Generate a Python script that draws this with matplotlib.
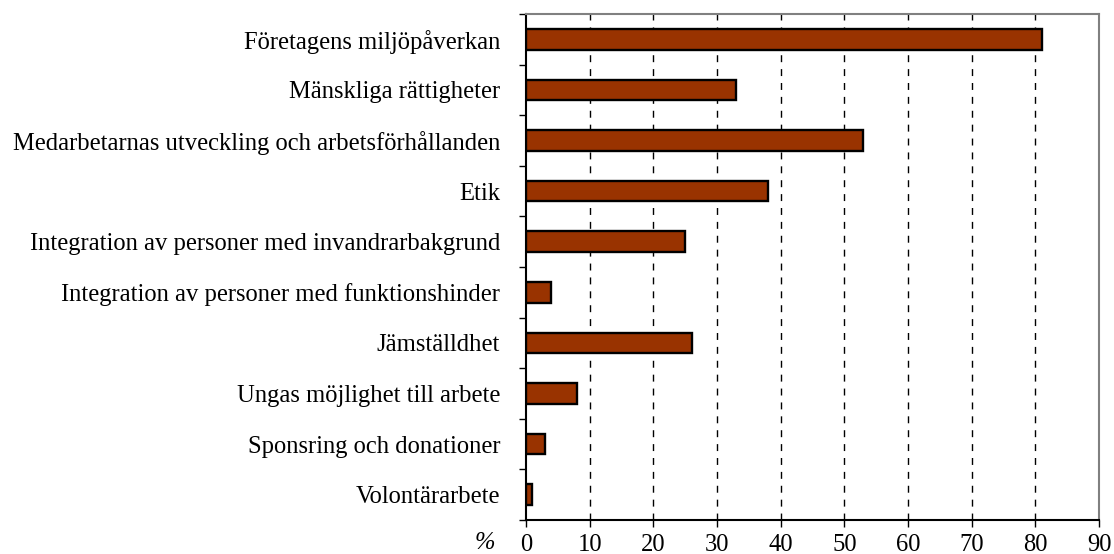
import matplotlib
matplotlib.use("Agg")
import matplotlib.pyplot as plt
import numpy as np

categories = [
    "Företagens miljöpåverkan",
    "Mänskliga rättigheter",
    "Medarbetarnas utveckling och arbetsförhållanden",
    "Etik",
    "Integration av personer med invandrarbakgrund",
    "Integration av personer med funktionshinder",
    "Jämställdhet",
    "Ungas möjlighet till arbete",
    "Sponsring och donationer",
    "Volontärarbete",
]
values = [81, 33, 53, 38, 25, 4, 26, 8, 3, 1]
xticks = [0, 10, 20, 30, 40, 50, 60, 70, 80, 90]

plt.rcParams['font.family'] = ['Liberation Serif', 'DejaVu Serif']
FS = 17.7

fig = plt.figure(figsize=(11.14, 5.54), dpi=100)
ax = fig.add_axes([526/1114, 1 - 520/554, (1099-526)/1114, (520-14)/554])

n = len(categories)
ypos = np.arange(n)
ax.barh(ypos, values, height=0.41, color="#993300", edgecolor="black", linewidth=1.7, zorder=3)

ax.set_xlim(0, 90)
ax.set_ylim(n - 0.5, -0.5)

ax.set_xticks(xticks)
ax.set_xticklabels([str(t) for t in xticks], fontsize=FS)
ax.tick_params(axis='x', direction='out', length=5, width=1, pad=5, colors='black')

# category boundaries as major ticks, labels on minor ticks
ax.set_yticks(np.arange(-0.5, n, 1.0))
ax.set_yticklabels([])
ax.set_yticks(ypos, minor=True)
ax.set_yticklabels(categories, minor=True, fontsize=FS)
ax.tick_params(axis='y', which='major', direction='out', length=5, width=1)
ax.tick_params(axis='y', which='minor', length=0, pad=18.5)

for x in xticks[1:-1]:
    ax.axvline(x, color='black', linestyle=(0, (5, 5)), linewidth=1, zorder=1)

ax.spines['left'].set_color('black')
ax.spines['bottom'].set_color('black')
ax.spines['top'].set_color('#808080')
ax.spines['right'].set_color('#808080')
for s in ax.spines.values():
    s.set_linewidth(1.5)

fig.text(485/1114, 1 - 543/554, "%", fontsize=FS, style='italic', ha='center', va='center')

fig.savefig("out.png", dpi=100)
